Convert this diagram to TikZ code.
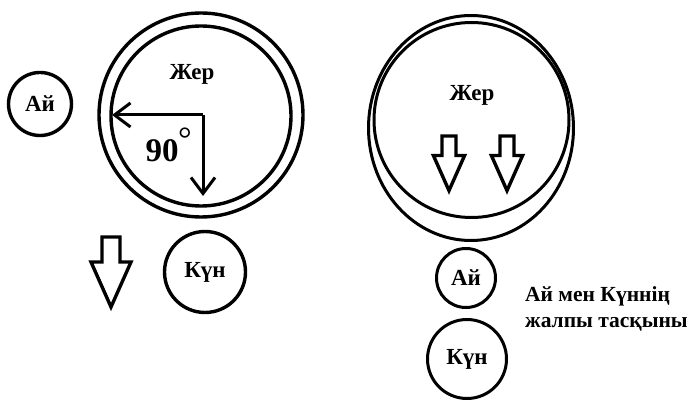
\documentclass[tikz,border=0pt]{standalone}
\usepackage{fontspec}
\setmainfont{Liberation Serif}
\usetikzlibrary{arrows.meta,shapes.geometric}
\tikzset{
  body/.style={draw, circle, line width=3.4pt, inner sep=0pt},
  lab/.style={font=\fontsize{23}{25}\selectfont\bfseries, inner sep=0pt},
  caption/.style={font=\fontsize{21.5}{24}\selectfont\bfseries, inner sep=0pt},
  anglearrow/.style={line width=3pt, -{Straight Barb[length=16pt,width=24pt,line width=3pt]}},
  hollow/.style={line width=3.4pt, line join=miter},
  pics/blockarrow/.style={code={
    \draw[hollow] (-9,0) -- (9,0) -- (9,25) -- (20,25) -- (0,70) -- (-20,25) -- (-9,25) -- cycle;
  }}
}
\begin{document}
\begin{tikzpicture}[x=1pt, y=-1pt]
\useasboundingbox (0,0) rectangle (694,403);
% ---------- left diagram ----------
\node[body, minimum size=204pt] (earthL) at (201,115) {};
\node[body, minimum size=180pt] (earthLin) at (201,116) {};
\node[lab] (zherL) at (192,74) {Жер};
\node[body, minimum size=63pt] (ayL) at (40,104) {};
\node[lab] at (ayL.center) {Ай};
\node[body, minimum size=81pt] (kunL) at (205,272) {};
\node[lab] at (kunL.center) {Күн};
\coordinate (corner) at (203,115);
\coordinate (westend) at (112,115);
\coordinate (southend) at (203,196);
\draw[anglearrow] (corner) -- (westend);
\draw[anglearrow] (corner) -- (southend);
\node[font=\fontsize{33}{33}\selectfont, inner sep=0pt, anchor=base] (ninety) at (162,162) {\textbf{90}};
\node[font=\fontsize{34}{34}\selectfont, inner sep=0pt] (deg) at (185,139) {°};
\pic at (111,237) {blockarrow};
% ---------- right diagram ----------
\node[draw, ellipse, line width=3pt, inner sep=0pt, minimum width=205pt, minimum height=225pt] (earthR) at (471,128) {};
\node[body, line width=3pt, minimum size=195pt] (earthRin) at (471.5,120) {};
\node[lab] (zherR) at (472,95) {Жер};
\pic[scale=0.78] at (449,136) {blockarrow};
\pic[scale=0.78] at (507,136) {blockarrow};
\node[body, line width=3pt, minimum size=59pt] (ayR) at (466,278) {};
\node[lab] at (ayR.center) {Ай};
\node[body, line width=3pt, minimum size=79pt] (kunR) at (467,359) {};
\node[lab] at (kunR.center) {Күн};
\node[caption, anchor=base west] (txtA) at (525,302) {Ай мен Күннің};
\node[caption, anchor=base west] (txtB) at (525,328) {жалпы тасқыны};
\end{tikzpicture}
\end{document}
